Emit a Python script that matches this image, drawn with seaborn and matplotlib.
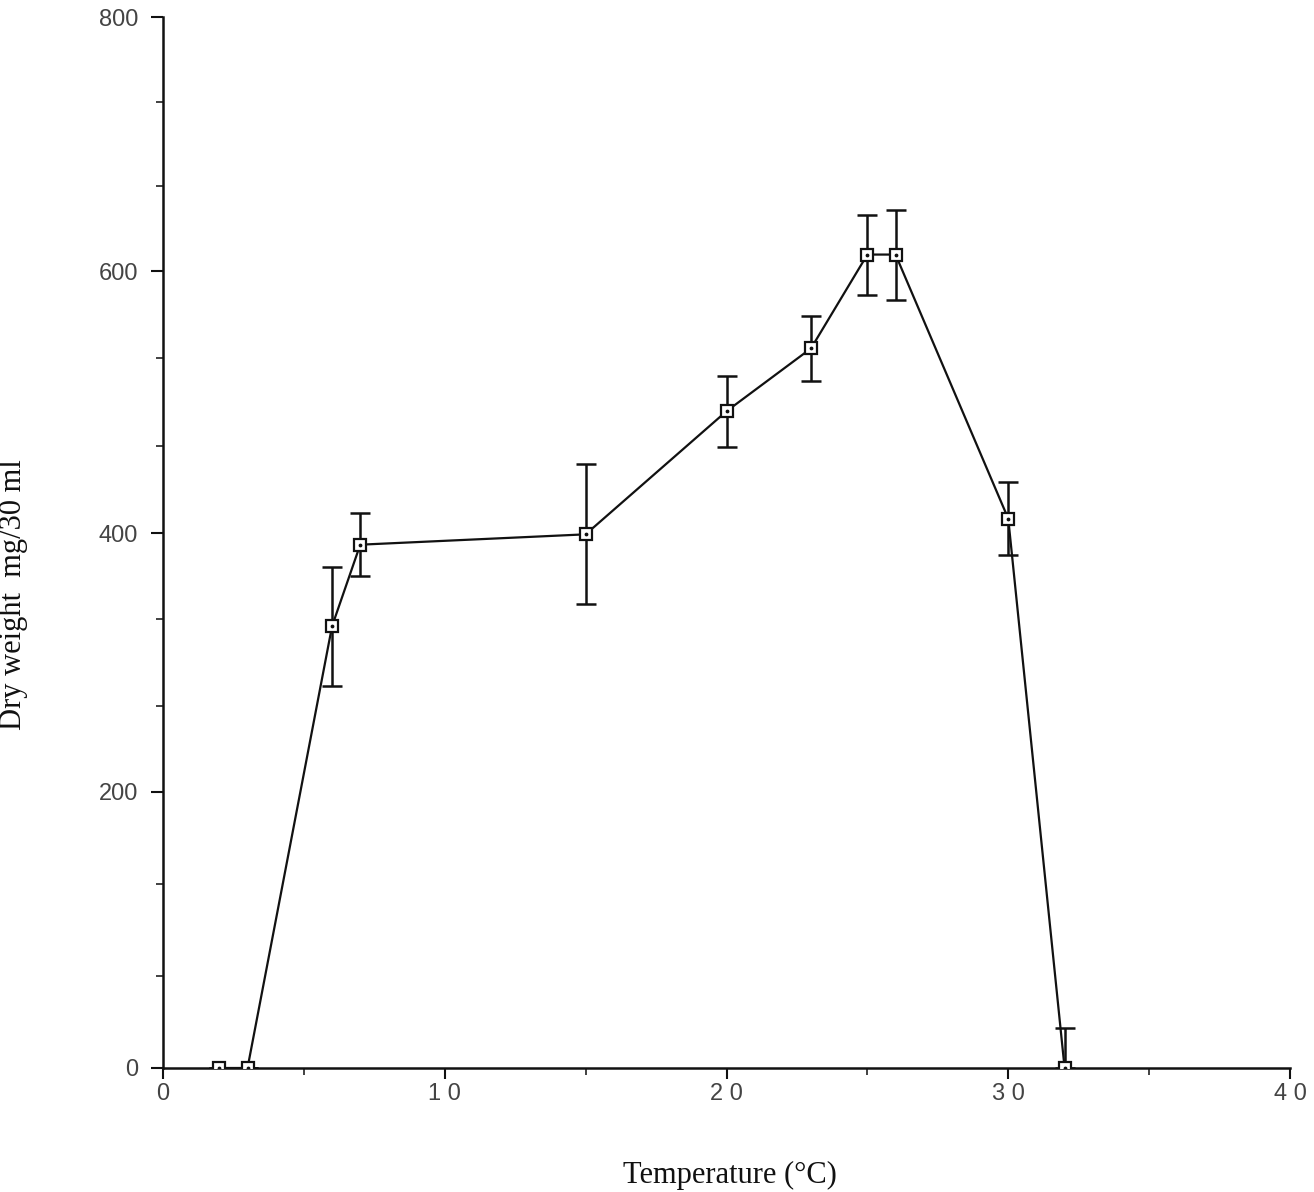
import matplotlib
matplotlib.use("Agg")
import matplotlib.pyplot as plt
import seaborn as sns
import numpy as np
import pandas as pd
from matplotlib.ticker import MultipleLocator

# Data
temperature = [2, 3, 6, 7, 15, 20, 23, 25, 26, 30, 32]
dry_weight = [0, 0, 328, 391, 399, 493, 541, 613, 613, 411, 0]
err_low = [0, 0, 46, 24, 54, 27, 25, 31, 35, 28, 0]
err_high = [0, 0, 46, 24, 54, 27, 25, 31, 35, 28, 29]

x_ticks = [0, 10, 20, 30, 40]
x_tick_labels = ["0", "1 0", "2 0", "3 0", "4 0"]
y_ticks = [0, 200, 400, 600, 800]
y_tick_labels = ["0", "200", "400", "600", "800"]

# the printed (scanned) value axis is slightly uneven between its labelled ticks
y_scale_vals = [0, 200, 400, 600, 800]
y_scale_pos = [0, 210.1, 407.2, 606.6, 800]

df = pd.DataFrame({"Temperature": temperature, "DryWeight": dry_weight})

sns.set_style("white")
fig = plt.figure(figsize=(13.14, 11.92), dpi=100)
ax = fig.add_axes([163/1314, 1 - 1068/1192, (1290-163)/1314, (1068-17)/1192])

fwd = lambda v: np.interp(v, y_scale_vals, y_scale_pos, left=-1e3, right=2e3)
inv = lambda p: np.interp(p, y_scale_pos, y_scale_vals, left=-1e3, right=2e3)
ax.set_yscale("function", functions=(fwd, inv))

ax.errorbar(temperature, dry_weight, yerr=[err_low, err_high], fmt="none",
            ecolor="#111111", elinewidth=1.8, capsize=7, capthick=1.8, zorder=2)
sns.lineplot(data=df, x="Temperature", y="DryWeight", ax=ax, color="#111111",
             linewidth=1.6, marker="s", markersize=9, markerfacecolor="white",
             markeredgecolor="#111111", markeredgewidth=1.6, zorder=3)
ax.scatter(temperature, dry_weight, s=3, color="#111111", zorder=4)

ax.set_xlim(0, 40)
ax.set_ylim(0, 800)
ax.set_xticks(x_ticks)
ax.set_xticklabels(x_tick_labels)
ax.set_yticks(y_ticks)
ax.set_yticklabels(y_tick_labels)
ax.xaxis.set_minor_locator(MultipleLocator(5))
ax.yaxis.set_minor_locator(MultipleLocator(200/3))

for s in ["top", "right"]:
    ax.spines[s].set_visible(False)
for s in ["left", "bottom"]:
    ax.spines[s].set_color("#111111")
    ax.spines[s].set_linewidth(1.8)

ax.tick_params(axis="both", which="both", bottom=True, left=True, top=False, right=False)
ax.tick_params(axis="y", which="major", direction="out", length=9, width=1.5,
               color="#111111", labelsize=17, labelcolor="#444444", pad=9)
ax.tick_params(axis="x", which="major", direction="out", length=8, width=1.5,
               color="#111111", labelsize=17, labelcolor="#444444", pad=3)
ax.tick_params(axis="both", which="minor", direction="out", length=5, width=1.3,
               color="#333333")
for lab in ax.get_xticklabels() + ax.get_yticklabels():
    lab.set_fontfamily("Liberation Sans")

ax.set_xlabel("Temperature (°C)", fontsize=22, fontfamily="Liberation Serif",
              color="#111111")
ax.set_ylabel("Dry weight  mg/30 ml", fontsize=22, fontfamily="Liberation Serif",
              color="#111111")
ax.xaxis.set_label_coords(0.503, -0.088)
ax.yaxis.set_label_coords(-0.12, 0.45)
ax.grid(False)

fig.savefig("out.png", dpi=100, facecolor="white")
